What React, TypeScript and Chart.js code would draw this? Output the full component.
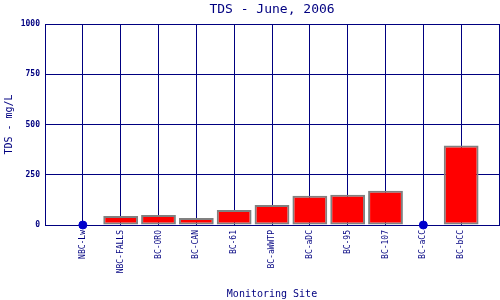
import React, { useEffect, useRef } from "react";
import { Chart, registerables } from "chart.js";

Chart.register(...registerables);

const categories = [
  "NBC-Lw", "NBC-FALLS", "BC-ORO", "BC-CAN", "BC-61", "BC-aWWTP",
  "BC-aDC", "BC-95", "BC-107", "BC-aCC", "BC-bCC",
];
const tdsValues: (number | null)[] = [null, 45, 50, 35, 75, 100, 145, 150, 170, null, 395];
const missingMarkers: (number | null)[] = [0, null, null, null, null, null, null, null, null, 0, null];
const yTicks = [0, 250, 500, 750, 1000];
const titleText = "TDS - June, 2006";

const NAVY = "#000080";
const MONO = "'DejaVu Sans Mono', monospace";

export default function App() {
  const ref = useRef<HTMLCanvasElement | null>(null);
  useEffect(() => {
    document.body.style.margin = "0";
    const labels = ["", ...categories, ""];
    const barData = [null, ...tdsValues, null];
    const dotData = [null, ...missingMarkers, null];

    const titlePlugin = {
      id: "centerTitle",
      afterDraw(chart: any) {
        const { ctx, chartArea } = chart;
        ctx.save();
        ctx.font = `13px ${MONO}`;
        ctx.fillStyle = NAVY;
        ctx.textAlign = "center";
        ctx.textBaseline = "middle";
        ctx.fillText(titleText, (chartArea.left + chartArea.right) / 2, 10);
        ctx.restore();
      },
    };

    const chart = new Chart(ref.current as HTMLCanvasElement, {
      type: "bar",
      data: {
        labels,
        datasets: [
          {
            type: "line",
            data: dotData,
            showLine: false,
            clip: false,
            pointRadius: 4,
            pointBackgroundColor: "#0000CC",
            pointBorderColor: "#0000CC",
            borderColor: "#0000CC",
            order: 0,
          } as any,
          {
            type: "bar",
            data: barData,
            backgroundColor: "#FF0000",
            borderColor: "#808080",
            borderWidth: 2,
            borderSkipped: false,
            barPercentage: 0.92,
            categoryPercentage: 1,
            order: 1,
          },
        ],
      },
      options: {
        animation: false,
        responsive: false,
        layout: { autoPadding: false, padding: { top: 24, right: 1, left: 0, bottom: 0 } },
        plugins: {
          legend: { display: false },
          tooltip: { enabled: false },
          title: { display: false },
        },
        scales: {
          x: {
            offset: false,
            grid: { color: NAVY, lineWidth: 1, drawTicks: false, offset: false },
            border: { color: NAVY },
            ticks: {
              autoSkip: false,
              maxRotation: 90,
              minRotation: 90,
              padding: 5,
              color: NAVY,
              font: { family: MONO, size: 8 },
            },
            title: {
              display: true,
              text: "Monitoring Site",
              color: NAVY,
              font: { family: MONO, size: 10 },
              padding: { top: 0, bottom: 0 },
            },
            afterFit(scale: any) {
              scale.height = 75;
              scale.paddingLeft = 0;
              scale.paddingRight = 0;
            },
          },
          y: {
            min: 0,
            max: 1000,
            afterBuildTicks(scale: any) {
              scale.ticks = yTicks.map((v) => ({ value: v }));
            },
            grid: { color: NAVY, lineWidth: 1, drawTicks: false },
            border: { color: NAVY },
            ticks: {
              padding: 5,
              color: NAVY,
              font: { family: MONO, size: 8, weight: "bold" },
              callback: (v: any) => String(v),
            },
            title: {
              display: true,
              text: "TDS - mg/L",
              color: NAVY,
              font: { family: MONO, size: 10 },
              padding: { top: 3, bottom: 0 },
            },
            afterFit(scale: any) {
              scale.width = 45;
              scale.paddingTop = 0;
              scale.paddingBottom = 0;
            },
          },
        },
      },
      plugins: [titlePlugin],
    });
    return () => chart.destroy();
  }, []);
  return <canvas ref={ref} width={500} height={300} style={{ display: "block" }} />;
}
